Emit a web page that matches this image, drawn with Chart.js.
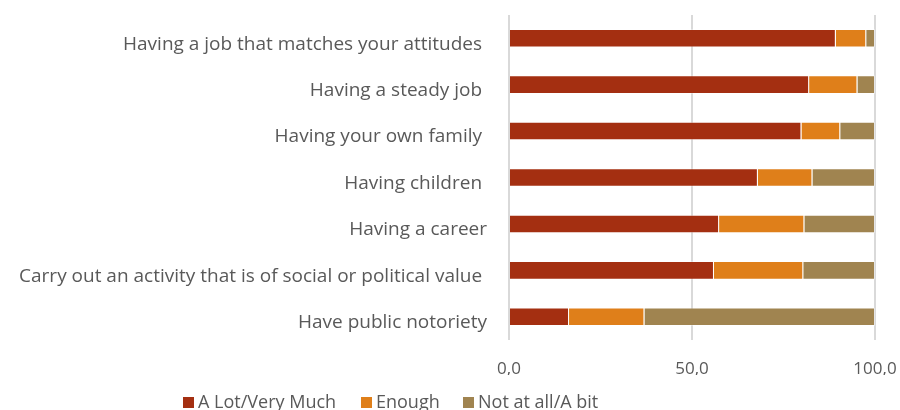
<!DOCTYPE html>
<html>
<head>
<meta charset="utf-8">
<script src="https://cdn.jsdelivr.net/npm/chart.js@4/dist/chart.umd.min.js"></script>
<style>
  html, body { margin: 0; padding: 0; background: #fff; }
  #wrap { position: relative; width: 900px; height: 410px; }
  #legend {
    position: absolute; left: 0; top: 391px; width: 900px; height: 20px;
    font-family: "Open Sans", sans-serif; font-size: 18px; color: #595959;
    white-space: nowrap; line-height: 20px;
  }
  #legend span.item { position: absolute; top: 0; display: flex; align-items: center; }
  #legend span.box { width: 11px; height: 11px; margin: 2px 4px 0 0; display: inline-block; }
</style>
</head>
<body>
<div id="wrap">
  <canvas id="bar_chart" width="900" height="410"></canvas>
  <div id="legend"></div>
</div>
<script>
var categories = [
  "Having a job that matches your attitudes ",
  "Having a steady job ",
  "Having your own family ",
  "Having children ",
  "Having a career",
  "Carry out an activity that is of social or political value ",
  "Have public notoriety"
];

var a_lot = [89.3, 82.0, 79.9, 68.0, 57.4, 56.0, 16.4];
var enough = [8.3, 13.2, 10.6, 14.9, 23.3, 24.4, 20.6];
var not_at_all = [2.4, 4.8, 9.5, 17.1, 19.3, 19.6, 63.0];

var x_ticks = [0, 50, 100];

var series = [
  {label: "A Lot/Very Much", data: a_lot, color: "#A42F11"},
  {label: "Enough", data: enough, color: "#DF7F1A"},
  {label: "Not at all/A bit", data: not_at_all, color: "#A08450"}
];

// left edge of each legend entry
var legend_x = [183, 361, 463];

var ctx = document.getElementById("bar_chart");
var bar_chart = new Chart(ctx, {
  type: 'bar',
  data: {
    labels: categories,
    datasets: series.map(function(s) {
      return {
        label: s.label,
        data: s.data,
        backgroundColor: s.color,
        borderColor: "rgba(255,255,255,0.35)",
        borderWidth: 1,
        barPercentage: 0.4,
        categoryPercentage: 1.0
      };
    })
  },
  options: {
    indexAxis: 'y',
    responsive: false,
    animation: false,
    layout: {padding: {top: 15, right: 25, bottom: 35, left: 0}},
    plugins: {
      legend: {display: false},
      tooltip: {enabled: false}
    },
    scales: {
      x: {
        stacked: true,
        min: 0,
        max: 100,
        afterBuildTicks: function(scale) {
          scale.ticks = x_ticks.map(function(v) { return {value: v}; });
        },
        afterFit: function(scale) {
          scale.height = 35;
          scale.paddingLeft = 0;
          scale.paddingRight = 0;
        },
        grid: {color: "#d9d9d9", lineWidth: 2, drawTicks: false},
        border: {display: false},
        ticks: {
          padding: 19,
          color: "#595959",
          font: {family: "Open Sans", size: 17},
          callback: function(v) { return v.toFixed(1).replace(".", ","); }
        }
      },
      y: {
        stacked: true,
        afterFit: function(scale) {
          scale.width = 509;
          scale.paddingTop = 0;
          scale.paddingBottom = 0;
        },
        grid: {display: false, drawTicks: false},
        border: {display: false},
        ticks: {
          padding: 22,
          labelOffset: 6,
          color: "#595959",
          font: {family: "Open Sans", size: 19}
        }
      }
    }
  }
});

// legend below the chart
var legend = document.getElementById("legend");
series.forEach(function(s, i) {
  var item = document.createElement("span");
  item.className = "item";
  item.style.left = legend_x[i] + "px";
  var box = document.createElement("span");
  box.className = "box";
  box.style.background = s.color;
  item.appendChild(box);
  item.appendChild(document.createTextNode(s.label));
  legend.appendChild(item);
});
</script>
</body>
</html>
